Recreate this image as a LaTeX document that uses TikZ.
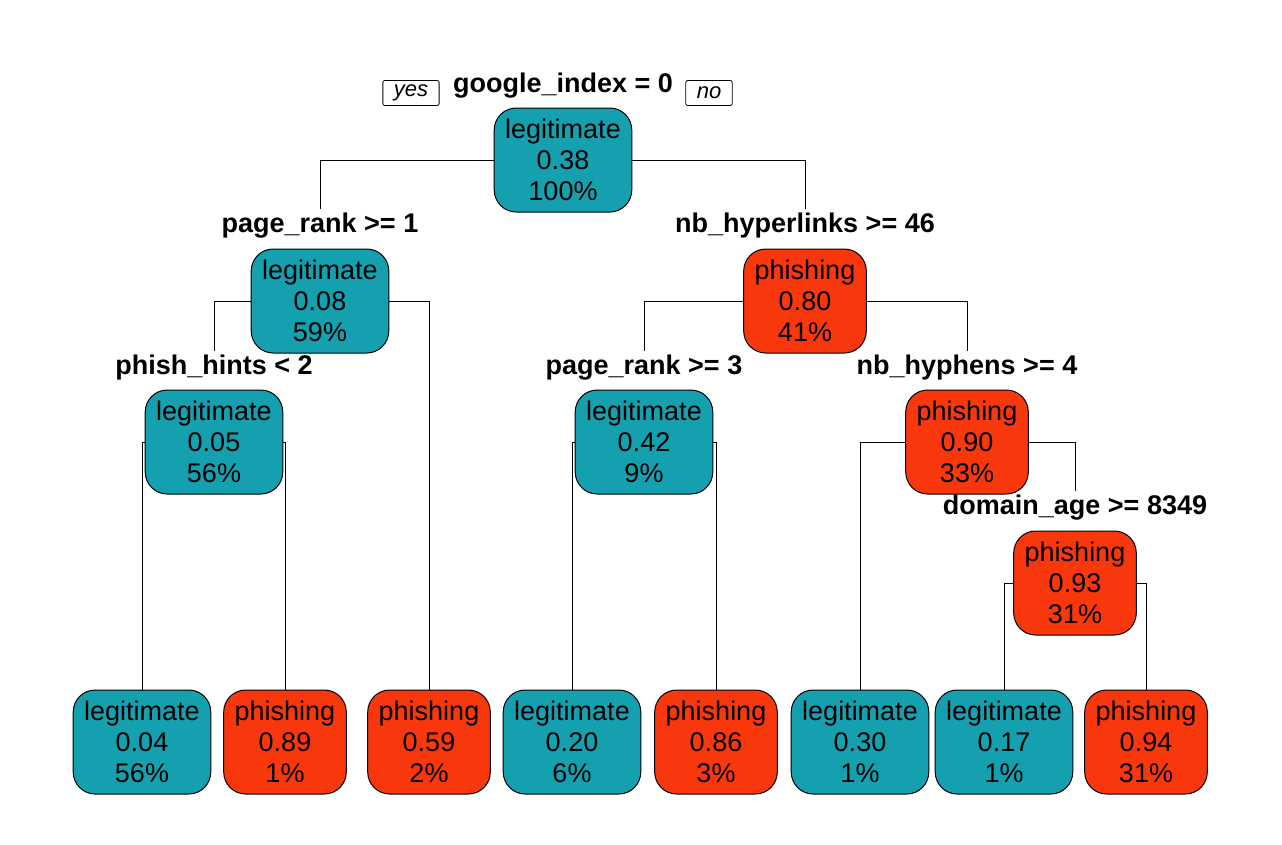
\documentclass[tikz,border=0pt]{standalone}
\usepackage{fontspec}
\setmainfont{Liberation Sans}
\definecolor{legitcol}{RGB}{21,160,175}
\definecolor{phishcol}{RGB}{248,56,12}
\tikzset{
  leaf/.style={draw, line width=1pt, rounded corners=22pt, align=center,
    inner xsep=11pt, minimum height=104pt, font=\fontsize{27}{31}\selectfont},
  legit/.style={leaf, fill=legitcol},
  phish/.style={leaf, fill=phishcol},
  split/.style={inner sep=4pt, font=\fontsize{27}{31}\selectfont\bfseries},
  yesno/.style={draw, line width=0.8pt, rounded corners=2pt, minimum height=25pt,
    inner xsep=11pt, inner ysep=2pt, font=\fontsize{22}{24}\selectfont\itshape}
}
\begin{document}
\begin{tikzpicture}[x=1pt,y=-1pt]
      \useasboundingbox (0,0) rectangle (1282,844);
      \draw
        (563,86) node[split] (s1){google\_index = 0}
        (411,93) node[yesno] (yes){yes}
        (709,93) node[yesno] (no){no}
        (563,160) node[legit] (1){legitimate\\0.38\\100\%}
        (320,226) node[split] (s2){page\_rank >= 1}
        (805,226) node[split] (s3){nb\_hyperlinks >= 46}
        (320,301) node[legit] (2){legitimate\\0.08\\59\%}
        (805,301) node[phish] (3){phishing\\0.80\\41\%}
        (214,368) node[split] (s4){phish\_hints < 2}
        (644,368) node[split] (s6){page\_rank >= 3}
        (967,368) node[split] (s7){nb\_hyphens >= 4}
        (214,442) node[legit] (4){legitimate\\0.05\\56\%}
        (644,442) node[legit] (6){legitimate\\0.42\\9\%}
        (967,442) node[phish] (7){phishing\\0.90\\33\%}
        (1075,508) node[split] (s15){domain\_age >= 8349}
        (1075,583) node[phish] (15){phishing\\0.93\\31\%}
        (142,742) node[legit] (8){legitimate\\0.04\\56\%}
        (285,742) node[phish] (9){phishing\\0.89\\1\%}
        (429,742) node[phish] (5){phishing\\0.59\\2\%}
        (572,742) node[legit] (12){legitimate\\0.20\\6\%}
        (716,742) node[phish] (13){phishing\\0.86\\3\%}
        (860,742) node[legit] (14){legitimate\\0.30\\1\%}
        (1004,742) node[legit] (30){legitimate\\0.17\\1\%}
        (1146,742) node[phish] (31){phishing\\0.94\\31\%};
      \begin{scope}[line width=1pt]
        \draw (1.west) -| (s2.north);
        \draw (1.east) -| (s3.north);
        \draw (2.west) -| (s4.north);
        \draw (2.east) -| (5.north);
        \draw (4.west) -| (8.north);
        \draw (4.east) -| (9.north);
        \draw (3.west) -| (s6.north);
        \draw (3.east) -| (s7.north);
        \draw (6.west) -| (12.north);
        \draw (6.east) -| (13.north);
        \draw (7.west) -| (14.north);
        \draw (7.east) -| (s15.north);
        \draw (15.west) -| (30.north);
        \draw (15.east) -| (31.north);
      \end{scope}
    \end{tikzpicture}
\end{document}
